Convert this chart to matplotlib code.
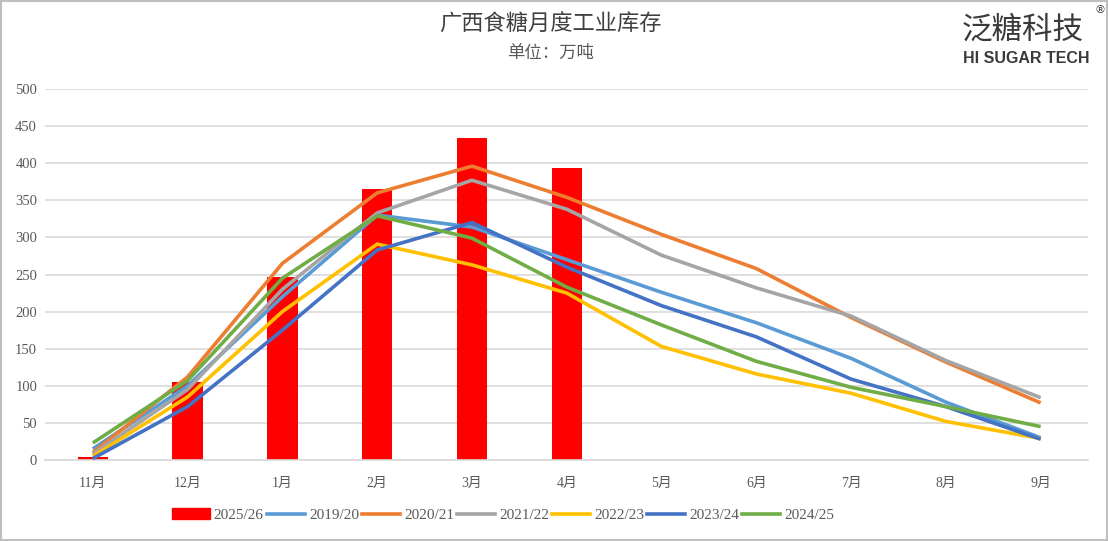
import numpy as np
import matplotlib
matplotlib.use("Agg")
import matplotlib.pyplot as plt
from matplotlib.patches import Rectangle, Patch
from matplotlib.lines import Line2D

months = ["11月", "12月", "1月", "2月", "3月", "4月", "5月", "6月", "7月", "8月", "9月"]

bar_label = "2025/26"
bar_values = [4, 105, 247, 365, 434, 393]

s1920 = [15, 100, 220, 330, 314, 270, 226, 185, 137, 78, 30]
s2021 = [10, 112, 265, 360, 396, 354, 304, 258, 192, 132, 77]
s2122 = [8, 95, 230, 333, 377, 338, 276, 232, 194, 134, 84]
s2223 = [5, 85, 200, 291, 263, 225, 153, 116, 90, 52, 29]
s2324 = [2, 72, 175, 283, 320, 260, 208, 166, 109, 72, 28]
s2425 = [23, 107, 245, 329, 299, 233, 182, 133, 98, 72, 45]

line_labels = ["2019/20", "2020/21", "2021/22", "2022/23", "2023/24", "2024/25"]
line_series = [s1920, s2021, s2122, s2223, s2324, s2425]
line_colors = ["#5b9bd5", "#ed7d31", "#a5a5a5", "#ffc000", "#4472c4", "#70ad47"]

cjk = ["Noto Sans CJK SC", "DejaVu Sans"]
serif = ["Liberation Serif", "Noto Sans CJK SC"]

fig = plt.figure(figsize=(11.08, 5.41), dpi=100)
ax = fig.add_axes([0.041, 0.1497, 0.941, 0.6858])

x = np.arange(len(months))
ax.bar(x[:len(bar_values)], bar_values, width=0.32, color="#ff0000", zorder=2)
for vals, c in zip(line_series, line_colors):
    ax.plot(x, vals, color=c, lw=2.6, zorder=3, solid_capstyle="butt")

ax.set_xlim(-0.5, len(months) - 0.5)
ax.set_ylim(0, 500)
ax.set_yticks(np.arange(0, 501, 50))
ax.set_xticks(x)
ax.set_xticklabels(months, family=serif, fontsize=10, color="#595959")
for t in ax.get_yticklabels():
    t.set_family(serif)
    t.set_fontsize(10.5)
    t.set_color("#595959")
ax.tick_params(axis="y", length=0, pad=6)
ax.tick_params(axis="x", length=0, pad=12)
ax.grid(axis="y", color="#d9d9d9", lw=1.2, zorder=0)
ax.set_axisbelow(True)
for side in ["top", "right", "left"]:
    ax.spines[side].set_visible(False)
ax.spines["bottom"].set_color("#d9d9d9")
ax.spines["bottom"].set_linewidth(1.2)

handles = [Patch(facecolor="#ff0000", edgecolor="#ff0000")]
handles += [Line2D([0], [0], color=c, lw=2.6) for c in line_colors]
fig.legend(handles, [bar_label] + line_labels, loc="center", bbox_to_anchor=(0.454, 0.048),
           ncol=7, frameon=False, prop={"family": serif, "size": 11},
           handlelength=2.5, handletextpad=0.25, columnspacing=0.2, labelcolor="#595959")

fig.text(0.497, 0.955, "广西食糖月度工业库存", ha="center", va="center",
         family=cjk, fontsize=16, color="#404040")
fig.text(0.497, 0.903, "单位：万吨", ha="center", va="center",
         family=cjk, fontsize=12.5, color="#595959")

fig.text(0.923, 0.945, "泛糖科技", ha="center", va="center",
         family=cjk, fontsize=22, color="#3a3a3a")
fig.text(0.926, 0.891, "HI SUGAR TECH", ha="center", va="center",
         family=["Liberation Sans"], fontsize=11.5, fontweight="bold", color="#3a3a3a")
fig.text(0.993, 0.982, "®", ha="center", va="center",
         family=["DejaVu Sans"], fontsize=8, color="#3a3a3a")

fig.patches.append(Rectangle((0.001, 0.001), 0.998, 0.997, transform=fig.transFigure,
                             fill=False, edgecolor="#bfbfbf", lw=1.5))

fig.savefig("out.png", dpi=100)
